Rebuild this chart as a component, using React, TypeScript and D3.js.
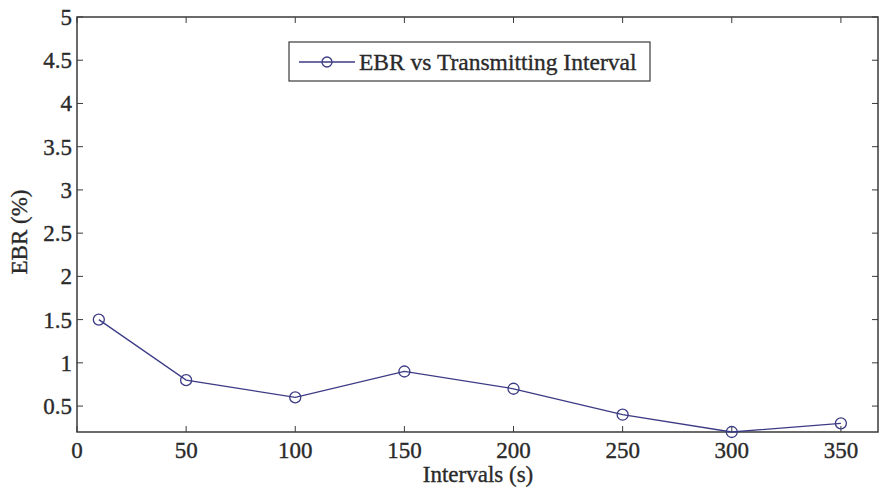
import { useEffect, useRef } from 'react';
import * as d3 from 'd3';

const intervals = [10, 50, 100, 150, 200, 250, 300, 350];
const ebrValues = [1.5, 0.8, 0.6, 0.9, 0.7, 0.4, 0.2, 0.3];
const xTicks = [0, 50, 100, 150, 200, 250, 300, 350];
const yTicks = [0.5, 1, 1.5, 2, 2.5, 3, 3.5, 4, 4.5, 5];
const legendLabel = 'EBR vs Transmitting Interval';

const W = 879;
const H = 491;
const FONT = '"Liberation Serif", "Times New Roman", serif';
const LINE = '#3b3b85';
const AXIS = '#3a3a3a';
const TXT = '#2a2a2a';

export default function App() {
  const svgRef = useRef<SVGSVGElement>(null);

  useEffect(() => {
    document.body.style.margin = '0';
    if (!svgRef.current) return;
    const svg = d3.select(svgRef.current);
    svg.selectAll('*').remove();

    const left = 77, right = 878, top = 17, bottom = 432;
    const x = d3.scaleLinear().domain([0, 367]).range([left, right]);
    const y = d3.scaleLinear().domain([0.2, 5]).range([bottom, top]);

    const txt = (sel: any, size: number) => sel
      .attr('font-family', FONT).attr('font-size', size)
      .attr('fill', TXT).attr('stroke', TXT).attr('stroke-width', 0.35);

    svg.append('rect').attr('width', W).attr('height', H).attr('fill', '#fff');

    // box
    svg.append('rect')
      .attr('x', left).attr('y', top)
      .attr('width', right - left).attr('height', bottom - top)
      .attr('fill', 'none').attr('stroke', AXIS).attr('stroke-width', 1.5);

    // inward ticks on all sides
    const tl = 6;
    const g = svg.append('g').attr('stroke', AXIS).attr('stroke-width', 1);
    xTicks.forEach(t => {
      g.append('line').attr('x1', x(t)).attr('x2', x(t)).attr('y1', bottom).attr('y2', bottom - tl);
      g.append('line').attr('x1', x(t)).attr('x2', x(t)).attr('y1', top).attr('y2', top + tl);
    });
    yTicks.forEach(t => {
      g.append('line').attr('x1', left).attr('x2', left + tl).attr('y1', y(t)).attr('y2', y(t));
      g.append('line').attr('x1', right).attr('x2', right - tl).attr('y1', y(t)).attr('y2', y(t));
    });

    // tick labels
    txt(svg.append('g').selectAll('text').data(xTicks).join('text')
      .attr('x', d => x(d)).attr('y', 458)
      .attr('text-anchor', 'middle'), 23)
      .text(d => d);
    txt(svg.append('g').selectAll('text').data(yTicks).join('text')
      .attr('x', 72).attr('y', d => y(d) + 8)
      .attr('text-anchor', 'end'), 23)
      .text(d => d);

    // axis titles
    txt(svg.append('text')
      .attr('x', 478).attr('y', 482)
      .attr('text-anchor', 'middle'), 23)
      .text('Intervals (s)');
    txt(svg.append('text')
      .attr('transform', `translate(27,232) rotate(-90)`)
      .attr('text-anchor', 'middle'), 23)
      .text('EBR (%)');

    // series
    const pts = intervals.map((v, i) => [v, ebrValues[i]] as [number, number]);
    svg.append('path')
      .attr('d', d3.line<[number, number]>().x(d => x(d[0])).y(d => y(d[1]))(pts))
      .attr('fill', 'none').attr('stroke', LINE).attr('stroke-width', 1.3);
    svg.append('g').selectAll('circle').data(pts).join('circle')
      .attr('cx', d => x(d[0])).attr('cy', d => y(d[1])).attr('r', 5.5)
      .attr('fill', 'none').attr('stroke', LINE).attr('stroke-width', 1.3);

    // legend
    const lg = svg.append('g');
    lg.append('rect')
      .attr('x', 289).attr('y', 42).attr('width', 361).attr('height', 39)
      .attr('fill', '#fff').attr('stroke', AXIS).attr('stroke-width', 1.2);
    lg.append('line').attr('x1', 299).attr('x2', 355).attr('y1', 62).attr('y2', 62)
      .attr('stroke', LINE).attr('stroke-width', 1.3);
    lg.append('circle').attr('cx', 327).attr('cy', 62).attr('r', 5)
      .attr('fill', 'none').attr('stroke', LINE).attr('stroke-width', 1.3);
    txt(lg.append('text')
      .attr('x', 359).attr('y', 70), 23.5)
      .text(legendLabel);
  }, []);

  return (
    <div style={{ position: 'absolute', left: 0, top: 0 }}>
      <svg ref={svgRef} width={W} height={H} style={{ display: 'block' }} />
    </div>
  );
}
